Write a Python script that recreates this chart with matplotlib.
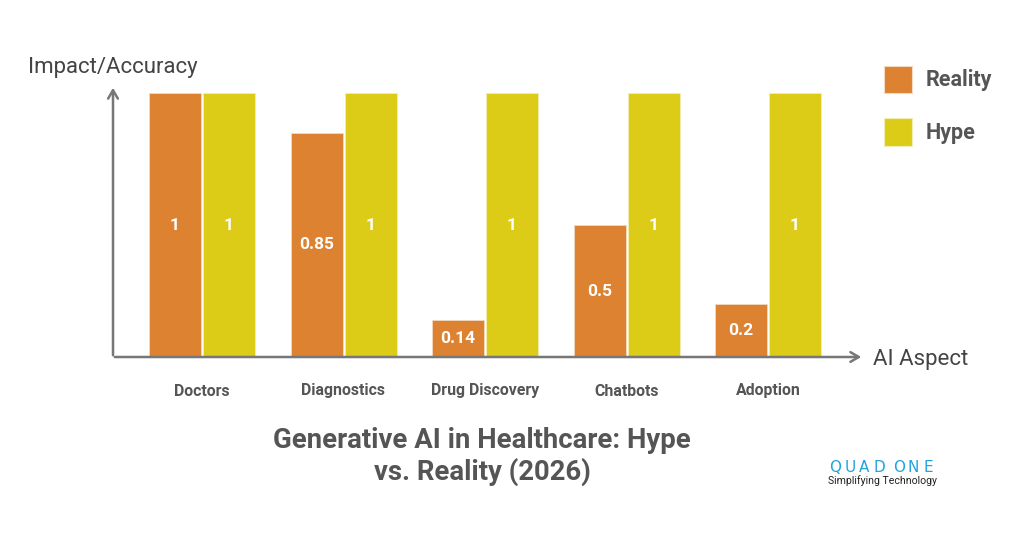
import matplotlib
matplotlib.use("Agg")
import matplotlib.pyplot as plt
from matplotlib.patches import Rectangle

categories = ["Doctors", "Diagnostics", "Drug Discovery", "Chatbots", "Adoption"]
reality = [1.0, 0.85, 0.14, 0.5, 0.2]
hype = [1, 1, 1, 1, 1]
reality_labels = ["1", "0.85", "0.14", "0.5", "0.2"]
hype_labels = ["1", "1", "1", "1", "1"]

ORANGE = "#DD8231"
YELLOW = "#DDCC17"
GRAY = "#777777"
TEXT = "#555555"

plt.rcParams['font.family'] = ['Roboto', 'DejaVu Sans']

W, H = 1024, 545
fig = plt.figure(figsize=(W / 100, H / 100), dpi=100)
fig.patch.set_facecolor("white")

def fx(px):
    return px / W

def fy(py):
    return 1 - py / H

ax_left, ax_right = 113, 862
ax_base, ax_top = 357, 87
ax = fig.add_axes([fx(ax_left), fy(ax_base), fx(ax_right - ax_left), (ax_base - ax_top) / H])
ax.axis("off")

group = 141.5
x0 = (202 - ax_left) / group
ax.set_xlim(-x0, (ax_right - ax_left) / group - x0)
ax.set_ylim(0, (ax_base - ax_top) / (ax_base - 93))

bw = 52 / group
gap = 2 / group
xs = list(range(len(categories)))
ro = [x - bw / 2 - gap / 2 for x in xs]
ho = [x + bw / 2 + gap / 2 for x in xs]
ax.bar(ro, reality, width=bw, color=ORANGE, edgecolor="#F3D9C0", linewidth=0.6)
ax.bar(ho, hype, width=bw, color=YELLOW, edgecolor="#F2EDB5", linewidth=0.6)

for x, v, lab in zip(ro, reality, reality_labels):
    ax.text(x, v / 2, lab, ha="center", va="center", color="white", fontsize=12.5, fontweight="bold")
for x, v, lab in zip(ho, hype, hype_labels):
    ax.text(x, v / 2, lab, ha="center", va="center", color="white", fontsize=12.5, fontweight="bold")

# axes with arrows
arrow_kw = dict(arrowstyle="->,head_length=0.6,head_width=0.35", color=GRAY, lw=1.8)
ax.annotate("", xy=(fx(113), fy(85)), xycoords="figure fraction",
            xytext=(fx(113), fy(358)), textcoords="figure fraction", arrowprops=arrow_kw)
ax.annotate("", xy=(fx(864), fy(357)), xycoords="figure fraction",
            xytext=(fx(112), fy(357)), textcoords="figure fraction", arrowprops=arrow_kw)

# category labels
for x, c in zip(xs, categories):
    ax.text(x, -(391 - ax_base) / (ax_base - 93), c, ha="center", va="center",
            fontsize=11.4, fontweight="bold", color=TEXT)

fig.text(fx(113), fy(67), "Impact/Accuracy", ha="center", va="center", fontsize=16, color="#444444")
fig.text(fx(873), fy(359), "AI Aspect", ha="left", va="center", fontsize=16, color="#444444")

# legend
fig.patches.append(Rectangle((fx(884), fy(93)), fx(28), 27 / H, transform=fig.transFigure,
                             facecolor=ORANGE, edgecolor="#F3D9C0", lw=0.8))
fig.patches.append(Rectangle((fx(884), fy(146)), fx(28), 28 / H, transform=fig.transFigure,
                             facecolor=YELLOW, edgecolor="#F2EDB5", lw=0.8))
fig.text(fx(926), fy(80), "Reality", ha="left", va="center", fontsize=15.5, fontweight="bold", color=TEXT)
fig.text(fx(926), fy(133), "Hype", ha="left", va="center", fontsize=15.5, fontweight="bold", color=TEXT)

# title
fig.text(fx(482), fy(440), "Generative AI in Healthcare: Hype", ha="center", va="center",
         fontsize=19.8, fontweight="bold", color=TEXT)
fig.text(fx(482), fy(472), "vs. Reality (2026)", ha="center", va="center",
         fontsize=19.8, fontweight="bold", color=TEXT)

# logo
logo_letters = ["Q", "U", "A", "D", "O", "N", "E"]
logo_x = [835.5, 850, 864.5, 879, 899, 913.5, 928]
for px, ch in zip(logo_x, logo_letters):
    fig.text(fx(px), fy(467), ch, ha="center", va="center", fontsize=11,
             color="#22A3E0", family=["DejaVu Sans"])
fig.text(fx(882), fy(481), "Simplifying Technology", ha="center", va="center", fontsize=7.6, color="#222222")

fig.savefig("out.png", dpi=100, facecolor="white")
